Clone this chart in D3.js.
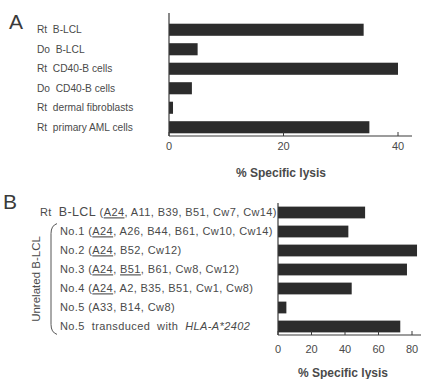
<!DOCTYPE html>
<html>
<head>
<meta charset="utf-8">
<script src="https://cdn.jsdelivr.net/npm/d3@7"></script>
<style>
  body { margin: 0; background: #fff; }
  svg text { font-family: "Liberation Sans", Arial, sans-serif; fill: #4a4a4a; }
</style>
</head>
<body>
<div id="chart"></div>
<script>
// Panel A: target cells
var aLabels = ["Rt  B-LCL", "Do  B-LCL", "Rt  CD40-B cells", "Do  CD40-B cells", "Rt  dermal fibroblasts", "Rt  primary AML cells"];
var aValues = [34, 5, 40, 4, 0.7, 35];
var aTicks = [0, 20, 40];

// Panel B: HLA-typed B-LCL
var bLabels = [
	[{ t: "Rt  " }, { t: "B-LCL", big: true }, { t: " (" }, { t: "A24", u: true }, { t: ", A11, B39, B51, Cw7, Cw14)" }],
	[{ t: "No.1 (" }, { t: "A24", u: true }, { t: ", A26, B44, B61, Cw10, Cw14)" }],
	[{ t: "No.2 (" }, { t: "A24", u: true }, { t: ", B52, Cw12)" }],
	[{ t: "No.3 (" }, { t: "A24", u: true }, { t: ", " }, { t: "B51", u: true }, { t: ", B61, Cw8, Cw12)" }],
	[{ t: "No.4 (" }, { t: "A24", u: true }, { t: ", A2, B35, B51, Cw1, Cw8)" }],
	[{ t: "No.5 (A33, B14, Cw8)" }],
	[{ t: "No.5  transduced  with  " }, { t: "HLA-A*2402", i: true }]
];
var bValues = [52, 42, 83, 77, 44, 5, 73];
var bTicks = [0, 20, 40, 60, 80];

var width = 421, height = 379;
var svg = d3.select("#chart").append("svg")
	.attr("width", width)
	.attr("height", height);

var barColor = "#2c2c2c";
var axisColor = "#3a3a3a";

// ---------- Panel A ----------
var xA = d3.scaleLinear().domain([0, 40]).range([169, 398]);
var yA = d3.scaleBand().domain(d3.range(aLabels.length)).range([20, 137])
	.paddingInner(0.38).paddingOuter(0.19);

svg.append("text").attr("x", 9).attr("y", 29)
	.style("font-size", "21px").style("fill", "#3a3a3a").text("A");

svg.selectAll(".barA").data(aValues).enter().append("rect")
	.attr("class", "barA")
	.attr("x", xA(0))
	.attr("y", (d, i) => yA(i))
	.attr("width", d => xA(d) - xA(0))
	.attr("height", yA.bandwidth())
	.attr("fill", barColor);

svg.selectAll(".labA").data(aLabels).enter().append("text")
	.attr("class", "labA")
	.attr("x", 37)
	.attr("y", (d, i) => yA(i) + yA.bandwidth() / 2)
	.attr("dy", "0.35em")
	.style("font-size", "10.2px")
	.style("white-space", "pre")
	.text(d => d);

// axes A
svg.append("line").attr("x1", xA(0)).attr("x2", xA(0)).attr("y1", 13).attr("y2", 136)
	.attr("stroke", axisColor).attr("stroke-width", 1.2);
svg.append("line").attr("x1", xA(0)).attr("x2", 412).attr("y1", 136).attr("y2", 136)
	.attr("stroke", axisColor).attr("stroke-width", 1.2);
svg.selectAll(".tickA").data(aTicks).enter().append("line")
	.attr("x1", d => xA(d)).attr("x2", d => xA(d))
	.attr("y1", 136).attr("y2", 132)
	.attr("stroke", axisColor).attr("stroke-width", 1);
svg.selectAll(".tlabA").data(aTicks).enter().append("text")
	.attr("x", d => xA(d)).attr("y", 150)
	.attr("text-anchor", "middle")
	.style("font-size", "11px")
	.text(d => d);
svg.append("text").attr("x", 281).attr("y", 177)
	.attr("text-anchor", "middle")
	.style("font-size", "12px").style("font-weight", "bold")
	.text("% Specific lysis");

// ---------- Panel B ----------
var xB = d3.scaleLinear().domain([0, 80]).range([278, 412]);
var yB = d3.scaleBand().domain(d3.range(bLabels.length)).range([203, 336])
	.paddingInner(0.38).paddingOuter(0.19);

svg.append("text").attr("x", 3).attr("y", 209)
	.style("font-size", "21px").style("fill", "#3a3a3a").text("B");

svg.selectAll(".barB").data(bValues).enter().append("rect")
	.attr("class", "barB")
	.attr("x", xB(0))
	.attr("y", (d, i) => yB(i))
	.attr("width", d => xB(d) - xB(0))
	.attr("height", yB.bandwidth())
	.attr("fill", barColor);

var labB = svg.selectAll(".labB").data(bLabels).enter().append("text")
	.attr("class", "labB")
	.attr("x", (d, i) => i == 0 ? 40 : 60)
	.attr("y", (d, i) => yB(i) + yB.bandwidth() / 2)
	.attr("dy", "0.35em")
	.style("font-size", "11px")
	.style("letter-spacing", "0.4px")
	.style("white-space", "pre");
labB.selectAll("tspan").data(d => d).enter().append("tspan")
	.style("font-size", d => d.big ? "12.5px" : null)
	.style("font-style", d => d.i ? "italic" : null)
	.style("text-decoration", d => d.u ? "underline" : null)
	.text(d => d.t);

// bracket + group label
var braceTop = yB(1) - 2, braceBot = yB(6) + yB.bandwidth() + 2;
svg.append("path")
	.attr("d", "M57," + braceTop + " Q51," + (braceTop + 2) + " 51," + (braceTop + 10) +
		" L51," + (braceBot - 10) + " Q51," + (braceBot - 2) + " 57," + braceBot)
	.attr("fill", "none").attr("stroke", "#555").attr("stroke-width", 1);
svg.append("text")
	.attr("transform", "translate(36," + ((braceTop + braceBot) / 2) + ") rotate(-90)")
	.attr("text-anchor", "middle")
	.attr("dy", "0.35em")
	.style("font-size", "11.5px")
	.text("Unrelated B-LCL");

// axes B
svg.append("line").attr("x1", xB(0)).attr("x2", xB(0)).attr("y1", 203).attr("y2", 335)
	.attr("stroke", axisColor).attr("stroke-width", 1.2);
svg.append("line").attr("x1", xB(0)).attr("x2", 421).attr("y1", 335).attr("y2", 335)
	.attr("stroke", axisColor).attr("stroke-width", 1.2);
svg.selectAll(".tickB").data(bTicks).enter().append("line")
	.attr("x1", d => xB(d)).attr("x2", d => xB(d))
	.attr("y1", 335).attr("y2", 331)
	.attr("stroke", axisColor).attr("stroke-width", 1);
svg.selectAll(".tlabB").data(bTicks).enter().append("text")
	.attr("x", d => xB(d)).attr("y", 353)
	.attr("text-anchor", "middle")
	.style("font-size", "11px")
	.text(d => d);
svg.append("text").attr("x", 343).attr("y", 377)
	.attr("text-anchor", "middle")
	.style("font-size", "12px").style("font-weight", "bold")
	.text("% Specific lysis");
</script>
</body>
</html>
